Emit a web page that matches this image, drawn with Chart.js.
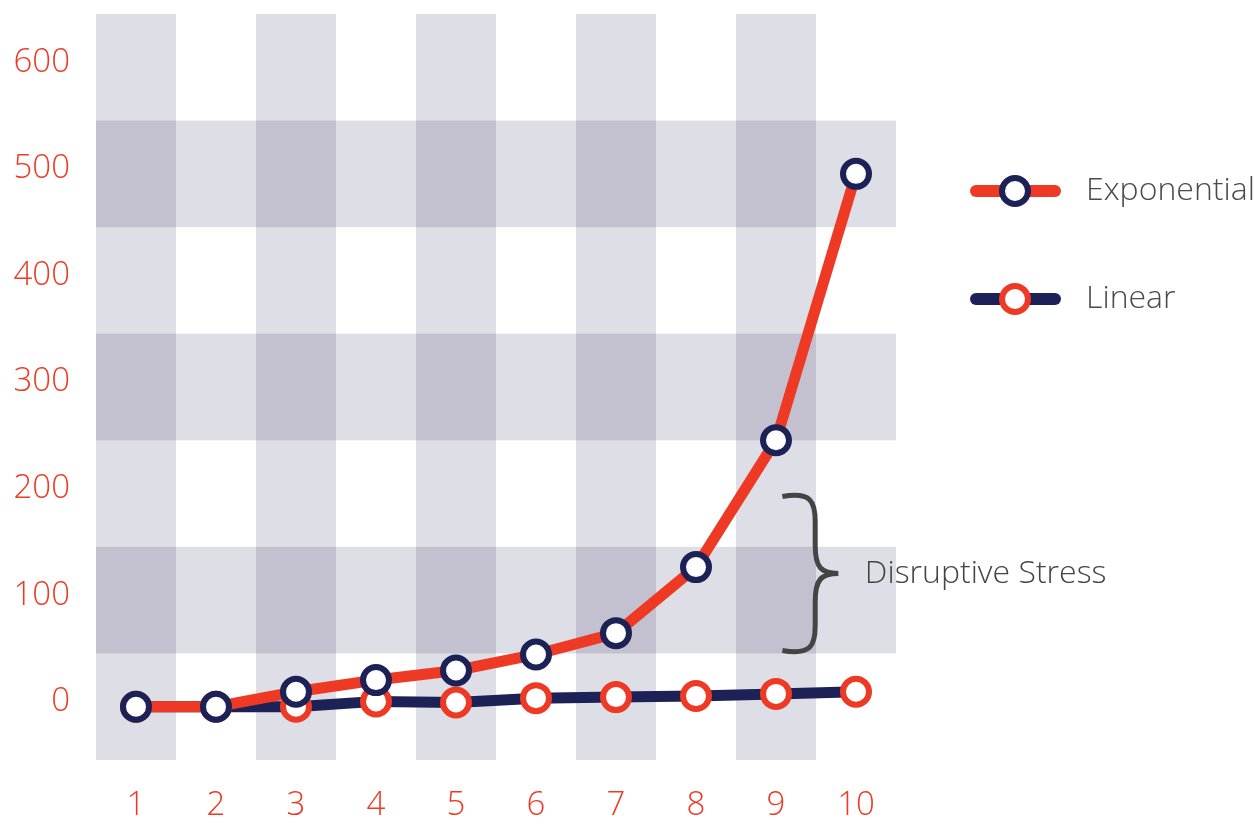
<!DOCTYPE html>
<html>
<head>
<meta charset="utf-8">
<script src="https://cdn.jsdelivr.net/npm/chart.js@4"></script>
<style>
  html, body { margin: 0; padding: 0; background: #fff; }
  #wrap { width: 1260px; height: 817px; }
</style>
</head>
<body>
<div id="wrap"><canvas id="chart" width="1260" height="817"></canvas></div>
<script>
// Données
const categories = ["1", "2", "3", "4", "5", "6", "7", "8", "9", "10"];
const exponential = [0, 0, 14, 25, 34, 49, 69, 131, 250, 500];
const linear = [0, 0, 0, 5, 4, 8, 9, 10, 12, 14];
const yTicks = [0, 100, 200, 300, 400, 500, 600];
const shadedColumns = ["1", "3", "5", "7", "9"];
const shadedRows = [[50, 150], [250, 350], [450, 550]];
const braceRange = [50, 200];
const braceLabel = "Disruptive Stress";

const RED = "#ee3a24";
const NAVY = "#1c2156";
const BAND = "#dedee6";
const BAND_DARK = "#c3c1cf";
const FONT = '"Open Sans", "Noto Sans", sans-serif';

// Bandes de fond (colonnes impaires + lignes horizontales)
const bandsPlugin = {
  id: "bands",
  beforeDatasetsDraw(chart) {
    const { ctx, chartArea: a, scales: { x, y } } = chart;
    const half = (x.getPixelForValue(1) - x.getPixelForValue(0)) / 2;
    ctx.save();
    ctx.fillStyle = BAND;
    shadedColumns.forEach((c) => {
      const cx = x.getPixelForValue(categories.indexOf(c));
      ctx.fillRect(cx - half, a.top, half * 2, a.bottom - a.top);
    });
    shadedRows.forEach(([lo, hi]) => {
      const top = y.getPixelForValue(hi);
      ctx.fillRect(a.left, top, a.right - a.left, y.getPixelForValue(lo) - top);
    });
    ctx.fillStyle = BAND_DARK;
    shadedColumns.forEach((c) => {
      const cx = x.getPixelForValue(categories.indexOf(c));
      shadedRows.forEach(([lo, hi]) => {
        const top = y.getPixelForValue(hi);
        ctx.fillRect(cx - half, top, half * 2, y.getPixelForValue(lo) - top);
      });
    });
    ctx.restore();
  },
};

// Accolade + texte "Disruptive Stress"
const bracePlugin = {
  id: "brace",
  afterDatasetsDraw(chart) {
    const { ctx, scales: { x, y } } = chart;
    const step = x.getPixelForValue(1) - x.getPixelForValue(0);
    const base = x.getPixelForValue(8);
    const x0 = base + step * 0.08;
    const xs = base + step * 0.49;
    const xt = base + step * 0.78;
    const yTop = y.getPixelForValue(braceRange[1]);
    const yBot = y.getPixelForValue(braceRange[0]);
    const ym = (yTop + yBot) / 2;
    const r = 28;
    ctx.save();
    ctx.strokeStyle = "#444444";
    ctx.lineWidth = 5;
    ctx.beginPath();
    ctx.moveTo(x0, yTop + 3);
    ctx.bezierCurveTo(xs - 4, yTop - 2, xs, yTop + 8, xs, yTop + r);
    ctx.lineTo(xs, ym - r);
    ctx.bezierCurveTo(xs, ym - 6, xs + 6, ym, xt, ym);
    ctx.bezierCurveTo(xs + 6, ym, xs, ym + 6, xs, ym + r);
    ctx.lineTo(xs, yBot - r);
    ctx.bezierCurveTo(xs, yBot - 8, xs - 4, yBot + 2, x0, yBot - 3);
    ctx.stroke();
    ctx.fillStyle = "#444444";
    ctx.font = "300 32px " + FONT;
    ctx.textBaseline = "middle";
    ctx.fillText(braceLabel, base + step * 1.11, ym);
    ctx.restore();
  },
};

// Légende à droite
const legendPlugin = {
  id: "sideLegend",
  afterDraw(chart) {
    const { ctx } = chart;
    const rows = [
      { label: "Exponential", line: RED, ring: NAVY, y: 191 },
      { label: "Linear", line: NAVY, ring: RED, y: 299 },
    ];
    ctx.save();
    rows.forEach((r) => {
      ctx.strokeStyle = r.line;
      ctx.lineWidth = 12;
      ctx.lineCap = "round";
      ctx.beginPath();
      ctx.moveTo(976, r.y);
      ctx.lineTo(1055, r.y);
      ctx.stroke();
      ctx.beginPath();
      ctx.arc(1015, r.y, 13, 0, Math.PI * 2);
      ctx.fillStyle = "#fff";
      ctx.fill();
      ctx.lineWidth = 6;
      ctx.strokeStyle = r.ring;
      ctx.stroke();
      ctx.fillStyle = "#4a4a4a";
      ctx.font = "300 32px " + FONT;
      ctx.textBaseline = "middle";
      ctx.fillText(r.label, 1086, r.y);
    });
    ctx.restore();
  },
};

new Chart(document.getElementById("chart"), {
  type: "line",
  data: {
    labels: categories,
    datasets: [
      {
        label: "Exponential",
        data: exponential,
        borderColor: RED,
        borderWidth: 11,
        pointRadius: 13,
        pointBorderWidth: 6,
        pointBorderColor: NAVY,
        pointBackgroundColor: "#fff",
        tension: 0,
      },
      {
        label: "Linear",
        data: linear,
        borderColor: NAVY,
        borderWidth: 11,
        pointRadius: 13,
        pointBorderWidth: 6,
        pointBorderColor: RED,
        pointBackgroundColor: "#fff",
        tension: 0,
      },
    ],
  },
  options: {
    responsive: false,
    animation: false,
    layout: { autoPadding: false, padding: { top: 14, right: 364, left: 0, bottom: 0 } },
    plugins: { legend: { display: false }, tooltip: { enabled: false } },
    scales: {
      x: {
        offset: true,
        grid: { display: false },
        border: { display: false },
        ticks: {
          color: RED,
          font: { family: FONT, size: 33, weight: 300 },
          padding: 18,
          maxRotation: 0,
        },
        afterFit(scale) {
          scale.height = 57;
          scale.paddingLeft = 0;
          scale.paddingRight = 0;
        },
      },
      y: {
        min: -50,
        max: 650,
        grid: { display: false },
        border: { display: false },
        afterBuildTicks(scale) { scale.ticks = yTicks.map((v) => ({ value: v })); },
        ticks: {
          color: RED,
          font: { family: FONT, size: 33, weight: 300 },
          padding: 18,
          labelOffset: -5,
        },
        afterFit(scale) {
          scale.width = 96;
          scale.paddingTop = 0;
          scale.paddingBottom = 0;
        },
      },
    },
  },
  plugins: [bandsPlugin, bracePlugin, legendPlugin],
});
</script>
</body>
</html>
